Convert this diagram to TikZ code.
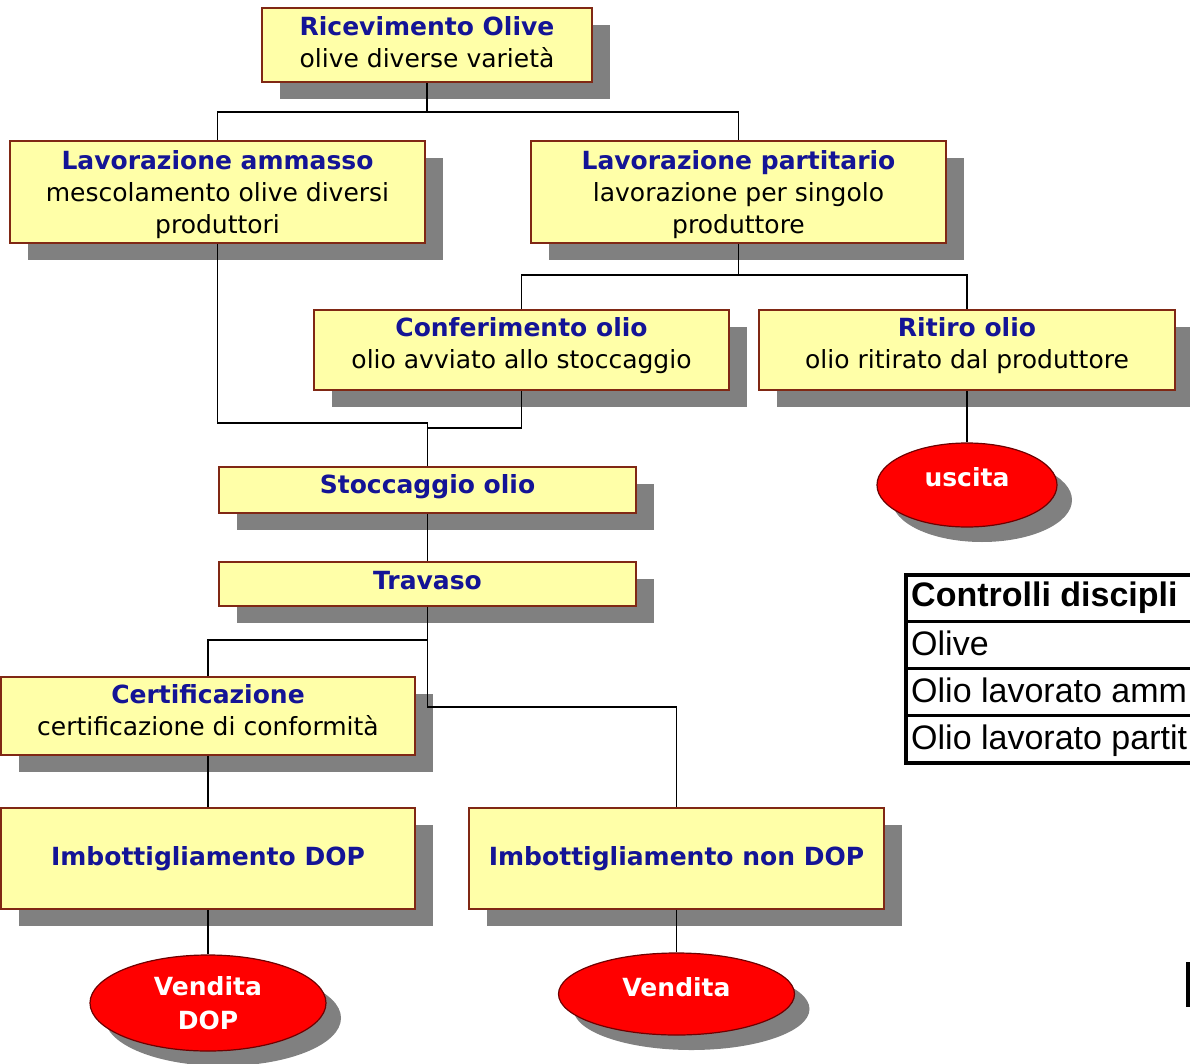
\documentclass[tikz,border=0pt]{standalone}
\usepackage{fontspec}
\setmainfont{DejaVu Sans}
\newfontfamily\tabfont{Liberation Sans}
\usetikzlibrary{shapes.geometric}
\definecolor{boxfill}{RGB}{255,255,168}
\definecolor{boxline}{RGB}{128,40,20}
\definecolor{shadowgray}{RGB}{128,128,128}
\definecolor{ttl}{RGB}{20,20,150}
\definecolor{ovalred}{RGB}{255,0,0}
\definecolor{ovalline}{RGB}{110,0,0}
\newcommand\ttlt[1]{{\color{ttl}\bfseries #1}}
\newcommand\flowbox[7][]{%
  \fill[shadowgray] (#3+18,#4+17) rectangle (#5+18,#6+17);
  \node[boxstyle, minimum width={#5-#3}, minimum height={#6-#4}, #1] (#2) at ({(#3+#5)/2},{(#4+#6)/2}) {#7};
}
\newcommand\flowoval[7][]{%
  \fill[shadowgray] (#3+15,#4+15) ellipse [x radius=#5, y radius=#6];
  \node[ovalstyle, minimum width={2*#5}, minimum height={2*#6}, #1] (#2) at (#3,#4) {#7};
}
\begin{document}
\begin{tikzpicture}[x=1pt,y=-1pt,
  boxstyle/.style={draw=boxline, line width=1.6pt, fill=boxfill, inner sep=0pt, align=center,
    font=\fontsize{25}{32}\selectfont},
  ovalstyle/.style={ellipse, draw=ovalline, line width=1.2pt, fill=ovalred, inner sep=0pt, align=center,
    text=white, font=\fontsize{25}{34}\selectfont\bfseries},
  conn/.style={draw=black, line width=1.8pt},
  tabtext/.style={anchor=base west, inner sep=0pt, font=\tabfont\fontsize{34}{38}\selectfont}
]
\useasboundingbox (0,0) rectangle (1190,1064);
\clip (0,0) rectangle (1190,1064);

% boxes
\flowbox[text depth=6pt]{ric}{262}{8}{592}{82}{\ttlt{Ricevimento Olive}\\olive diverse varietà}
\flowbox[text depth=0pt]{amm}{10}{141}{425}{243}{\ttlt{Lavorazione ammasso}\\mescolamento olive diversi\\produttori}
\flowbox[text depth=0pt]{par}{531}{141}{946}{243}{\ttlt{Lavorazione partitario}\\lavorazione per singolo\\produttore}
\flowbox[text depth=14pt]{conf}{314}{310}{729}{390}{\ttlt{Conferimento olio}\\olio avviato allo stoccaggio}
\flowbox[text depth=14pt]{rit}{759}{310}{1175}{390}{\ttlt{Ritiro olio}\\olio ritirato dal produttore}
\flowbox[text depth=12pt]{sto}{219}{467}{636}{513}{\ttlt{Stoccaggio olio}}
\flowbox[text depth=8pt]{tra}{219}{562}{636}{606}{\ttlt{Travaso}}
\flowbox[text depth=12pt]{cert}{1}{677}{415}{755}{\ttlt{Certificazione}\\certificazione di conformità}
\flowbox{idop}{1}{808}{415}{909}{\ttlt{Imbottigliamento DOP}}
\flowbox{indop}{469}{808}{884}{909}{\ttlt{Imbottigliamento non DOP}}

% ovals
\flowoval[text height=12pt, text depth=10pt]{usc}{967}{485}{90}{42}{uscita}
\flowoval{vdop}{208}{1003}{118}{48}{Vendita\\DOP}
\flowoval[text height=12pt, text depth=8pt]{vend}{676.5}{994}{118}{41}{Vendita}

% junctions
\coordinate (j1) at (427,112);
\coordinate (j2) at (738.5,275);
\coordinate (j3) at (427.5,423);
\coordinate (j4) at (427.5,428);
\coordinate (j5) at (427.5,640);
\coordinate (j6) at (427.5,707);

% connectors
\draw[conn] (ric.south) -- (j1);
\draw[conn] (amm.north) |- (j1) -| (par.north);
\draw[conn] (par.south) -- (j2);
\draw[conn] (conf.north) |- (j2) -| (rit.north);
\draw[conn] (amm.south) |- (j3);
\draw[conn] (conf.south) |- (j4);
\draw[conn] (j3) -- (sto.north);
\draw[conn] (sto.south) -- (tra.north);
\draw[conn] (tra.south) -- (j5);
\draw[conn] (cert.north) |- (j5);
\draw[conn] (j5) -- (j6) -| (indop.north);
\draw[conn] (cert.south) -- (idop.north);
\draw[conn] (idop.south) -- (vdop.north);
\draw[conn] (indop.south) -- (vend.north);
\draw[conn] (rit.south) -- (usc.north);

% table
\fill[white] (906,575) rectangle (1260,763);
\draw[line width=3pt] (906,621) -- (1260,621);
\draw[line width=3pt] (906,668) -- (1260,668);
\draw[line width=3pt] (906,715) -- (1260,715);
\draw[line width=4pt] (906,575) rectangle (1260,763);
\node[tabtext] (t0) at (911,606) {\bfseries Controlli discipli};
\node[tabtext] (t1) at (911,655) {Olive};
\node[tabtext] (t2) at (911,702) {Olio lavorato amm};
\node[tabtext] (t3) at (911,749) {Olio lavorato partit};

% edge mark
\fill (1186,962) rectangle (1190,1007);
\end{tikzpicture}
\end{document}
